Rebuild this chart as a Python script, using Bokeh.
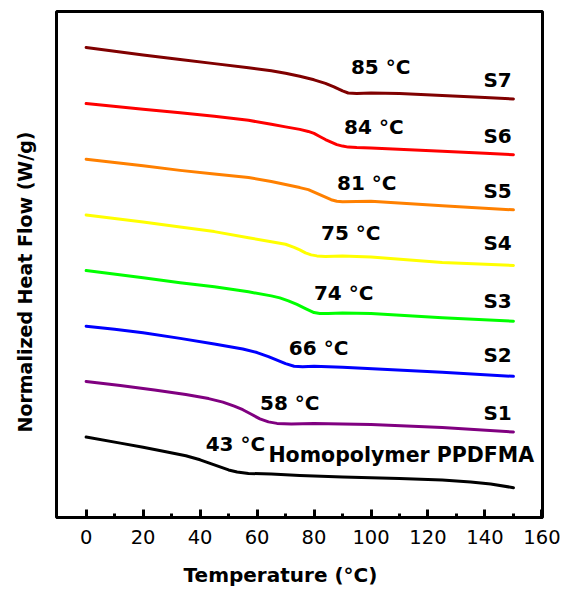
from math import pi

from bokeh.embed import file_html
from bokeh.layouts import column, row
from bokeh.models import FixedTicker, Label, Range1d
from bokeh.plotting import figure
from bokeh.resources import INLINE

# DSC traces (temperature in °C, normalized heat flow, offset per sample)
series_names = ["S7", "S6", "S5", "S4", "S3", "S2", "S1", "Homopolymer PPDFMA"]
tg_values = [85, 84, 81, 75, 74, 66, 58, 43]

temp_s7 = [0, 20, 33, 45, 57, 65, 70, 75, 80, 84, 87, 90, 92, 95, 100, 110, 125, 140, 150]
hf_s7 = [9.29, 9.14, 9.05, 8.97, 8.89, 8.83, 8.78, 8.72, 8.65, 8.58, 8.51, 8.43, 8.39, 8.38,
         8.39, 8.38, 8.34, 8.30, 8.27]

temp_s6 = [0, 20, 33, 45, 57, 65, 70, 75, 78, 80, 82, 84, 86, 88, 90, 92, 95, 100, 125, 140, 150]
hf_s6 = [8.18, 8.07, 8.00, 7.93, 7.85, 7.77, 7.72, 7.67, 7.63, 7.59, 7.53, 7.47, 7.42, 7.37,
         7.34, 7.32, 7.31, 7.30, 7.24, 7.20, 7.17]

temp_s5 = [0, 20, 33, 45, 57, 65, 70, 75, 78, 80, 82, 84, 86, 88, 90, 95, 100, 125, 150]
hf_s5 = [7.08, 6.95, 6.86, 6.79, 6.72, 6.64, 6.58, 6.52, 6.48, 6.43, 6.38, 6.33, 6.28, 6.25,
         6.24, 6.245, 6.25, 6.16, 6.08]

temp_s4 = [0, 20, 33, 45, 57, 65, 70, 73, 75, 77, 79, 81, 84, 90, 100, 125, 150]
hf_s4 = [5.98, 5.84, 5.74, 5.65, 5.53, 5.45, 5.40, 5.34, 5.29, 5.23, 5.19, 5.17, 5.16, 5.17,
         5.15, 5.04, 4.98]

temp_s3 = [0, 20, 33, 45, 57, 65, 68, 71, 74, 77, 80, 82, 85, 90, 100, 125, 150]
hf_s3 = [4.88, 4.74, 4.64, 4.56, 4.46, 4.38, 4.34, 4.28, 4.21, 4.13, 4.05, 4.03, 4.03, 4.04,
         4.03, 3.95, 3.88]

temp_s2 = [0, 10, 20, 33, 45, 55, 60, 64, 67, 70, 73, 76, 80, 90, 125, 150]
hf_s2 = [3.78, 3.72, 3.65, 3.54, 3.43, 3.33, 3.26, 3.18, 3.11, 3.04, 2.99, 2.98, 2.99, 2.97,
         2.87, 2.79]

temp_s1 = [0, 12, 24, 35, 43, 48, 52, 55, 58, 61, 64, 67, 72, 80, 100, 125, 150]
hf_s1 = [2.69, 2.61, 2.52, 2.43, 2.35, 2.28, 2.20, 2.13, 2.04, 1.95, 1.89, 1.86, 1.85, 1.86,
         1.84, 1.78, 1.69]

temp_homo = [0, 12, 20, 28, 35, 40, 44, 47, 50, 53, 57, 65, 75, 90, 110, 125, 135, 142, 150]
hf_homo = [1.59, 1.47, 1.39, 1.30, 1.22, 1.14, 1.06, 1.00, 0.94, 0.90, 0.87, 0.86, 0.83, 0.80,
           0.77, 0.74, 0.70, 0.66, 0.59]

x_ticks = [0, 20, 40, 60, 80, 100, 120, 140, 160]
x_minor_ticks = [10, 30, 50, 70, 90, 110, 130, 150]

temps = [temp_s7, temp_s6, temp_s5, temp_s4, temp_s3, temp_s2, temp_s1, temp_homo]
flows = [hf_s7, hf_s6, hf_s5, hf_s4, hf_s3, hf_s2, hf_s1, hf_homo]
colors = ["#800000", "#ff0000", "#ff8000", "#ffff00", "#00ff00", "#0000ff", "#800080", "#000000"]

# annotation anchors (temperature, heat flow)
tg_label_pos = [(103.4, 8.90), (101.0, 7.72), (98.5, 6.61), (92.9, 5.62),
                (90.4, 4.43), (81.6, 3.35), (71.5, 2.27), (52.4, 1.45)]
name_label_pos = [(149.4, 8.65), (149.4, 7.54), (149.4, 6.46), (149.4, 5.43),
                  (149.4, 4.28), (149.4, 3.22), (149.4, 2.07), (64.0, 1.23)]

FONT = "DejaVu Sans"
LEFT_W = 40       # strip holding the vertical axis title
MAIN_W = 524
MAIN_H = 561
BOTTOM_H = 28     # strip holding the horizontal axis title

p = figure(
    width=MAIN_W, height=MAIN_H,
    x_range=Range1d(-10.4, 160.2), y_range=Range1d(0, 10),
    output_backend="svg", toolbar_location=None, title=None,
    min_border_left=16, min_border_right=22, min_border_top=11, min_border_bottom=44,
)
p.background_fill_color = "white"
p.border_fill_color = "white"
p.xgrid.visible = False
p.ygrid.visible = False
p.outline_line_color = "black"
p.outline_line_width = 3
p.outline_line_alpha = 1.0

p.yaxis.visible = False

xa = p.xaxis[0]
xa.ticker = FixedTicker(ticks=x_ticks, minor_ticks=x_minor_ticks)
xa.axis_line_color = "black"
xa.axis_line_width = 3
xa.major_tick_in = 8
xa.major_tick_out = 0
xa.minor_tick_in = 4
xa.minor_tick_out = 0
xa.major_tick_line_width = 3
xa.minor_tick_line_width = 3
xa.major_tick_line_color = "black"
xa.minor_tick_line_color = "black"
xa.major_label_text_font = FONT
xa.major_label_text_font_size = "19.5px"
xa.major_label_text_color = "black"
xa.major_label_standoff = 12

for t, f, c in zip(temps, flows, colors):
    p.line(t, f, line_color=c, line_width=3, line_join="round", line_cap="round")

for tg, (tx, ty) in zip(tg_values, tg_label_pos):
    p.add_layout(Label(x=tx, y=ty, text=f"{tg} \u00b0C", text_font=FONT,
                       text_font_style="bold", text_font_size="20px",
                       text_align="center", text_baseline="middle", text_color="black"))

for i, (name, (tx, ty)) in enumerate(zip(series_names, name_label_pos)):
    last = i == len(series_names) - 1
    p.add_layout(Label(x=tx, y=ty, text=name, text_font=FONT,
                       text_font_style="bold", text_font_size="20.5px" if last else "20px",
                       text_align="left" if last else "right",
                       text_baseline="middle", text_color="black"))


def title_strip(w, h):
    s = figure(width=w, height=h, x_range=Range1d(0, w), y_range=Range1d(0, h),
               x_axis_type=None, y_axis_type=None, output_backend="svg",
               toolbar_location=None, title=None, min_border=0)
    s.outline_line_color = None
    s.background_fill_color = "white"
    s.border_fill_color = "white"
    return s


# vertical axis title, reading bottom to top
left_strip = title_strip(LEFT_W, MAIN_H + BOTTOM_H)
left_strip.add_layout(Label(x=24.5, y=307.5, angle=pi / 2,
                            text="Normalized Heat Flow (W/g)", text_font=FONT,
                            text_font_style="bold", text_font_size="19px",
                            text_align="center", text_baseline="middle", text_color="black"))

# horizontal axis title under the tick labels
bottom_strip = title_strip(MAIN_W, BOTTOM_H)
bottom_strip.add_layout(Label(x=241.5, y=14.8,
                              text="Temperature (\u00b0C)", text_font=FONT,
                              text_font_style="bold", text_font_size="20px",
                              text_align="center", text_baseline="middle", text_color="black"))

layout = row(left_strip, column(p, bottom_strip, spacing=0), spacing=0)

open("out.html", "w").write(file_html(layout, INLINE))
